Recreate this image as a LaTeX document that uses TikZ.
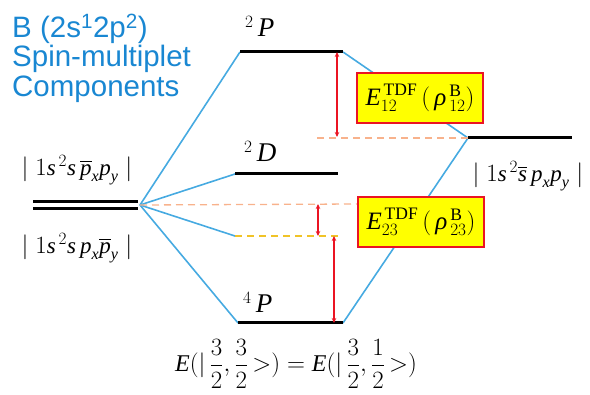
\documentclass[tikz,border=0pt]{standalone}
\usepackage{amsmath}
\usepackage{fontspec}
\setmainfont{Liberation Serif}
\newfontfamily\titlefont{Liberation Sans}
\usetikzlibrary{arrows.meta}
\definecolor{lblue}{RGB}{70,170,225}
\definecolor{tblue}{RGB}{25,135,210}
\definecolor{ared}{RGB}{235,20,35}
\definecolor{dorange}{RGB}{248,178,140}
\definecolor{dyellow}{RGB}{240,195,40}
\definecolor{byellow}{RGB}{255,255,0}
\newcommand{\mi}[1]{\textit{#1}}
\tikzset{
  level/.style={line width=3pt, black},
  conn/.style={line width=1.6pt, lblue},
  odash/.style={line width=1.3pt, dorange, dash pattern=on 7pt off 5pt},
  ydash/.style={line width=1.3pt, dyellow, dash pattern=on 7pt off 5pt},
  gap/.style={line width=1.3pt, ared, {Stealth[length=5pt,width=4.5pt]}-{Stealth[length=5pt,width=4.5pt]}},
  tbox/.style={draw=ared, line width=1.5pt, fill=byellow, minimum width=126pt, minimum height=50pt, inner sep=0pt, font=\fontsize{25}{27}\selectfont},
  ttl/.style={text=tblue, font=\titlefont\fontsize{29.5}{30}\selectfont, anchor=base west, inner sep=0pt},
  lab/.style={font=\fontsize{23}{25}\selectfont, inner sep=0pt},
  term/.style={font=\fontsize{27}{28}\selectfont, anchor=base west, inner sep=0pt}
}
\begin{document}
\begin{tikzpicture}[x=1pt,y=-1pt]
\useasboundingbox (0,0) rectangle (590,395);
% coordinates
\coordinate (O) at (140,205);
\coordinate (L1a) at (33,201.5); \coordinate (L1b) at (138,201.5);
\coordinate (L2a) at (33,208.5); \coordinate (L2b) at (138,208.5);
\coordinate (P2l) at (240,52);  \coordinate (P2r) at (343,52);
\coordinate (D2l) at (235,174); \coordinate (D2r) at (338,174);
\coordinate (Yl) at (235,236);  \coordinate (Yr) at (340,236);
\coordinate (P4l) at (238,323); \coordinate (P4r) at (343,323);
\coordinate (Rl) at (468,138);  \coordinate (Rr) at (572,138);
\coordinate (Oa) at (317,138);
\coordinate (Ob) at (358,204);
\coordinate (A1t) at (337,52);  \coordinate (A1b) at (337,137);
\coordinate (A2t) at (318,204); \coordinate (A2b) at (318,236);
\coordinate (A3t) at (334,236); \coordinate (A3b) at (334,323);
% blue connectors
\draw[conn] (O) -- (P2l);
\draw[conn] (O) -- (D2l);
\draw[conn] (O) -- (Yl);
\draw[conn] (O) -- (P4l);
\draw[conn] (P2r) -- (Rl);
\draw[conn] (P4r) -- (Rl);
% dashed
\draw[odash] (O) -- (Ob);
\draw[odash] (Oa) -- (Rl);
\draw[ydash] (Yl) -- (Yr);
% levels
\draw[level, line width=3.5pt] (L1a) -- (L1b);
\draw[level, line width=3.5pt] (L2a) -- (L2b);
\draw[level] (P2l) -- (P2r);
\draw[level] (D2l) -- (D2r);
\draw[level] (P4l) -- (P4r);
\draw[level] (Rl) -- (Rr);
% arrows
\draw[gap] (A1t) -- (A1b);
\draw[gap] (A2t) -- (A2b);
\draw[gap] (A3t) -- (A3b);
% boxes
\node[tbox] (b1) at (420,98) {$\mi{E}^{\,\text{TDF}}_{12}\,(\,\mi{ρ}^{\,\text{B}}_{\,12})$};
\node[tbox] (b2) at (421,222) {$\mi{E}^{\,\text{TDF}}_{23}\,(\,\mi{ρ}^{\,\text{B}}_{\,23})$};
% title
\node[ttl] (t1) at (12,38) {B (2s\textsuperscript{1}2p\textsuperscript{2})};
\node[ttl] (t2) at (12,67) {Spin-multiplet};
\node[ttl] (t3) at (12,97) {Components};
% state labels
\node[lab] (s1) at (77,170) {$|\;1\mi{s}^{\,2}\mi{s}\,\overline{\mi{p}}_{\mi{x}}\mi{p}_{\mi{y}}\;|$};
\node[lab] (s2) at (77,248) {$|\;1\mi{s}^{\,2}\mi{s}\,\mi{p}_{\mi{x}}\overline{\mi{p}}_{\mi{y}}\;|$};
\node[lab] (s3) at (528,176) {$|\;1\mi{s}^{\,2}\overline{\mi{s}}\,\mi{p}_{\mi{x}}\mi{p}_{\mi{y}}\;|$};
% term labels
\node[term] (n2P) at (245,37) {${}^{2}\,\mi{P}$};
\node[term] (n2D) at (244,162) {${}^{2}\,\mi{D}$};
\node[term] (n4P) at (243,313) {${}^{4}\,\mi{P}$};
% bottom formula
\node[font=\fontsize{24}{26}\selectfont, inner sep=0pt] (eq) at (296,364)
  {$\mi{E}(|\,\dfrac{3}{2},\dfrac{3}{2}\,\mathord{>})=\mi{E}(|\,\dfrac{3}{2},\dfrac{1}{2}\,\mathord{>})$};
\end{tikzpicture}
\end{document}
